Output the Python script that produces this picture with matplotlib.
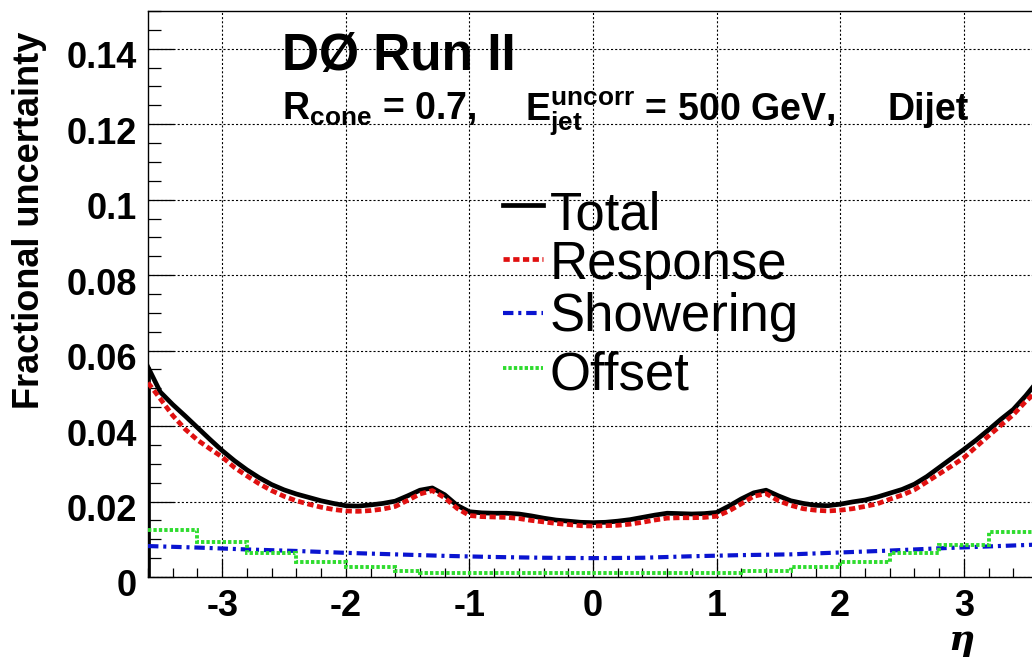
import numpy as np
import matplotlib
matplotlib.use("Agg")
import matplotlib.pyplot as plt
import matplotlib.transforms as mtransforms
from matplotlib.lines import Line2D
from matplotlib.ticker import MultipleLocator, FuncFormatter

# eta bin centres used for the total and response curves
eta = np.linspace(-3.6, 3.6, 73)

total = [0.0556, 0.0490, 0.0457, 0.0427, 0.0396, 0.0365, 0.0335, 0.0308, 0.0284, 0.0263,
         0.0245, 0.0231, 0.0220, 0.0211, 0.0202, 0.0195, 0.0189, 0.0188, 0.0191, 0.0195,
         0.0201, 0.0215, 0.0230, 0.0236, 0.0218, 0.0190, 0.0173, 0.0170, 0.0169, 0.0169,
         0.0167, 0.0162, 0.0156, 0.0151, 0.0148, 0.0145, 0.0144, 0.0145, 0.0148, 0.0152,
         0.0158, 0.0164, 0.0169, 0.0168, 0.0167, 0.0168, 0.0171, 0.0188, 0.0207, 0.0223,
         0.0230, 0.0215, 0.0202, 0.0195, 0.0190, 0.0189, 0.0193, 0.0199, 0.0204, 0.0212,
         0.0222, 0.0232, 0.0246, 0.0266, 0.0290, 0.0314, 0.0338, 0.0363, 0.0390, 0.0418,
         0.0444, 0.0480, 0.0520]

response = [0.0515, 0.0472, 0.0428, 0.0392, 0.0363, 0.0340, 0.0318, 0.0290, 0.0268, 0.0247,
            0.0229, 0.0214, 0.0202, 0.0193, 0.0185, 0.0179, 0.0175, 0.0174, 0.0176, 0.0180,
            0.0187, 0.0203, 0.0220, 0.0229, 0.0210, 0.0182, 0.0163, 0.0160, 0.0159, 0.0158,
            0.0155, 0.0150, 0.0146, 0.0142, 0.0139, 0.0136, 0.0135, 0.0136, 0.0137, 0.0140,
            0.0145, 0.0151, 0.0156, 0.0157, 0.0157, 0.0158, 0.0161, 0.0175, 0.0194, 0.0214,
            0.0221, 0.0202, 0.0190, 0.0181, 0.0177, 0.0175, 0.0177, 0.0181, 0.0187, 0.0194,
            0.0206, 0.0217, 0.0231, 0.0252, 0.0273, 0.0294, 0.0316, 0.0345, 0.0374, 0.0402,
            0.0430, 0.0465, 0.0495]

eta_shower = [-3.6, -3.2, -2.8, -2.4, -2.0, -1.6, -1.2, -0.8, -0.4, 0.0,
              0.4, 0.8, 1.2, 1.6, 2.0, 2.4, 2.8, 3.2, 3.6]
showering = [0.0082, 0.0078, 0.0073, 0.0069, 0.0064, 0.0060, 0.0056, 0.0053, 0.0051, 0.0050,
             0.0051, 0.0055, 0.0058, 0.0060, 0.0065, 0.0070, 0.0076, 0.0081, 0.0086]

offset_edges = [-3.6, -3.2, -2.8, -2.4, -2.0, -1.6, -1.4, 1.2, 1.6, 2.0, 2.4, 2.8, 3.2, 3.6]
offset = [0.0125, 0.0094, 0.0063, 0.0040, 0.0026, 0.0017, 0.0010,
          0.0015, 0.0027, 0.0040, 0.0063, 0.0085, 0.0120]

labels = ["Total", "Response", "Showering", "Offset"]
colors = ["black", "#e01010", "#0a14d0", "#2edc2e"]
styles = ["-", (0, (4.5, 2.5)), (0, (7.5, 3.5, 2.2, 3.5)), (0, (2.4, 1.5))]
widths = [3.4, 3.4, 3.0, 2.8]

plt.rcParams["font.family"] = ["Liberation Sans", "DejaVu Sans"]
plt.rcParams["axes.unicode_minus"] = False
plt.rcParams["lines.scale_dashes"] = False
plt.rcParams["mathtext.fontset"] = "custom"
plt.rcParams["mathtext.rm"] = "Liberation Sans:bold"
plt.rcParams["mathtext.bf"] = "Liberation Sans:bold"
plt.rcParams["mathtext.it"] = "Liberation Sans:bold"

fig = plt.figure(figsize=(10.32, 6.61), dpi=100)
ax = fig.add_axes([148 / 1032, 84 / 661, 890 / 1032, 566 / 661])

ax.plot(eta, total, color=colors[0], lw=widths[0], ls=styles[0], zorder=3)
ax.vlines(eta[0], 0, total[0], color=colors[0], lw=widths[0], zorder=3)
ax.plot(eta, response, color=colors[1], lw=widths[1], ls=styles[1], zorder=4)
ax.plot(eta_shower, showering, color=colors[2], lw=widths[2], ls=styles[2], zorder=4)
ax.stairs(offset, offset_edges, baseline=None, color=colors[3], lw=widths[3],
          ls=styles[3], zorder=4)

ax.set_xlim(-3.6, 3.6)
ax.set_ylim(0, 0.15)
ax.xaxis.set_major_locator(MultipleLocator(1))
ax.xaxis.set_minor_locator(MultipleLocator(0.2))
ax.yaxis.set_major_locator(MultipleLocator(0.02))
ax.yaxis.set_minor_locator(MultipleLocator(0.005))
fmt = FuncFormatter(lambda v, p: "%g" % round(v, 3))
ax.xaxis.set_major_formatter(fmt)
ax.yaxis.set_major_formatter(fmt)

ax.grid(True, which="major", color="black", lw=0.8, ls=(0, (1.5, 1.5)), zorder=1)
ax.tick_params(axis="both", which="both", direction="in", top=False, right=False,
               width=0.9, labelsize=26)
ax.tick_params(axis="y", which="major", length=19, pad=8)
ax.tick_params(axis="y", which="minor", length=9.5)
ax.tick_params(axis="x", which="major", length=13, pad=9)
ax.tick_params(axis="x", which="minor", length=6.5)
for lab in ax.get_xticklabels() + ax.get_yticklabels():
    lab.set_fontweight("bold")
shift = mtransforms.ScaledTranslation(0, -6 / 100, fig.dpi_scale_trans)
for lab in ax.get_yticklabels():
    lab.set_transform(lab.get_transform() + shift)
for side in ["left", "bottom", "top", "right"]:
    ax.spines[side].set_linewidth(1.0)

fig.text(30 / 1032, 1 - 220 / 661, "Fractional uncertainty", rotation=90,
         ha="center", va="center", fontsize=26, fontweight="bold")
fig.text(961 / 1032, 1 - 640 / 661, "η", ha="center", va="center", fontsize=26,
         fontstyle="italic", fontweight="bold", family=["DejaVu Serif"])

fig.text(282 / 1032, 1 - 70 / 661, "DØ Run II", ha="left", va="baseline",
         fontsize=37, fontweight="bold")
# run conditions line, three pieces
conditions = [(282, r"R$_{\rm cone}$ = 0.7,"),
              (525, r"E$_{\rm jet}^{\rm uncorr}$ = 500 GeV,"),
              (887, "Dijet")]
for x0, txt in conditions:
    fig.text(x0 / 1032, 1 - 120 / 661, txt, ha="left", va="baseline",
             fontsize=27, fontweight="bold")

# legend entries
handle_y = [205, 259, 313, 368]
text_y = [229, 279, 331, 389]
for lab, c, s, w, hy, ty in zip(labels, colors, styles, widths, handle_y, text_y):
    fig.add_artist(Line2D([503 / 1032, 543 / 1032], [1 - hy / 661, 1 - hy / 661],
                          color=c, ls=s, lw=w))
    fig.text(550 / 1032, 1 - ty / 661, lab, ha="left", va="baseline", fontsize=38)

fig.savefig("out.png", dpi=100)
